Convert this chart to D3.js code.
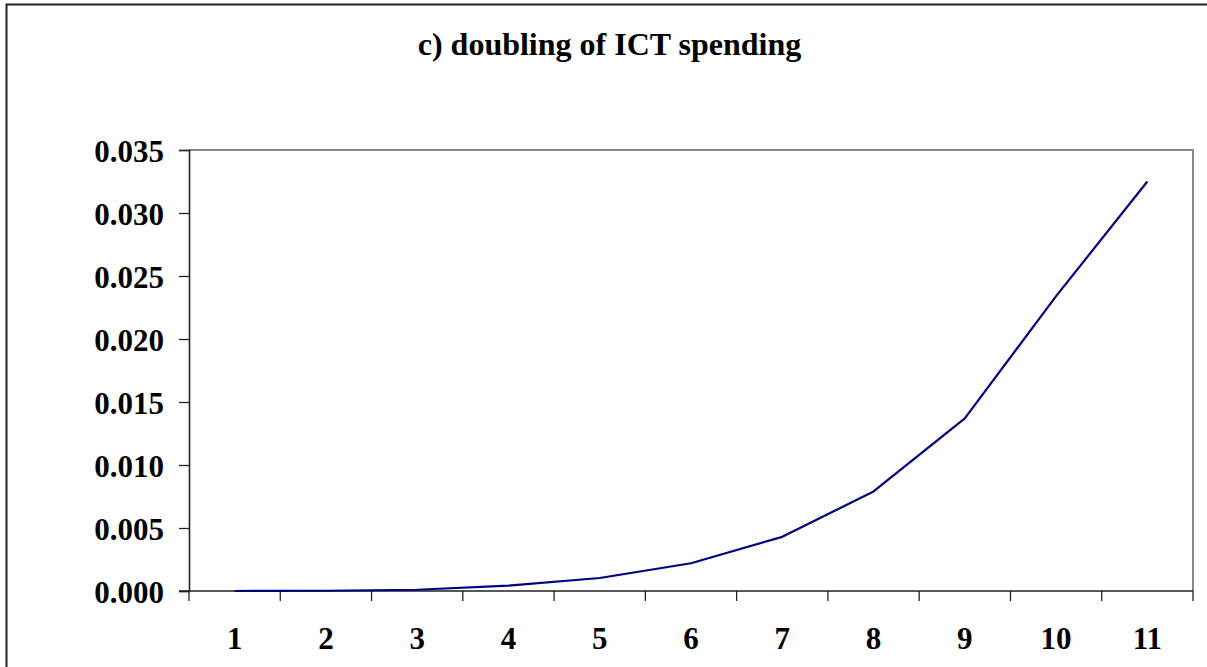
<!DOCTYPE html>
<html>
<head>
<meta charset="utf-8">
<script src="https://cdn.jsdelivr.net/npm/d3@7/dist/d3.min.js"></script>
<style>
  html, body { margin: 0; padding: 0; background: #fff; }
  svg { display: block; }
  text { font-family: "Liberation Serif", "Times New Roman", serif; font-weight: bold; fill: #000; }
</style>
</head>
<body>
<svg id="chart" width="1207" height="667"></svg>
<script>
const title = "c) doubling of ICT spending";
const categories = ["1", "2", "3", "4", "5", "6", "7", "8", "9", "10", "11"];
const values = [0.0000, 0.00002, 0.0001, 0.00042, 0.00103, 0.0022, 0.0043, 0.0079, 0.0137, 0.0234, 0.0325];
const yTicks = [0, 0.005, 0.010, 0.015, 0.020, 0.025, 0.030, 0.035];

const svg = d3.select("#chart");
const W = 1207, H = 667;
const plot = { left: 189, right: 1193, top: 150, bottom: 591 };

// outer frame (extends past right and bottom edge as in the reference)
svg.append("rect")
  .attr("x", 6.5).attr("y", 4.5)
  .attr("width", W + 20).attr("height", H + 20)
  .attr("fill", "none").attr("stroke", "#222").attr("stroke-width", 2);

svg.append("text")
  .attr("x", 609.5).attr("y", 55)
  .attr("text-anchor", "middle")
  .style("font-size", "32px")
  .text(title);

const x = d3.scaleBand().domain(categories).range([plot.left, plot.right]).padding(0);
const y = d3.scaleLinear().domain([0, 0.035]).range([plot.bottom, plot.top]);

// plot border (top & right, gray)
svg.append("path")
  .attr("d", `M${plot.left},${plot.top}H${plot.right}V${plot.bottom}`)
  .attr("fill", "none").attr("stroke", "#888").attr("stroke-width", 2);

// Y axis
const yAxis = d3.axisLeft(y)
  .tickValues(yTicks)
  .tickFormat(d3.format(".3f"))
  .tickSize(10)
  .tickPadding(15);
const yg = svg.append("g").attr("transform", `translate(${plot.left},0)`).call(yAxis);
yg.select(".domain").attr("stroke", "#222").attr("stroke-width", 1.6);
yg.selectAll(".tick line").attr("stroke", "#222").attr("stroke-width", 1.3);
yg.selectAll(".tick text")
  .style("font-size", "31px")
  .style("font-family", '"Liberation Serif", "Times New Roman", serif')
  .style("font-weight", "bold")
  .attr("fill", "#000")
  .attr("dy", "0.36em");

// X axis line
svg.append("line")
  .attr("x1", plot.left - 10).attr("x2", plot.right)
  .attr("y1", plot.bottom).attr("y2", plot.bottom)
  .attr("stroke", "#222").attr("stroke-width", 1.6);

// X ticks at category boundaries
const boundaries = categories.map(c => x(c)).concat([x(categories[categories.length - 1]) + x.bandwidth()]);
svg.append("g").selectAll("line")
  .data(boundaries)
  .join("line")
  .attr("x1", d => d).attr("x2", d => d)
  .attr("y1", plot.bottom).attr("y2", plot.bottom + 10)
  .attr("stroke", "#222").attr("stroke-width", 1.3);

// X labels
svg.append("g").selectAll("text")
  .data(categories)
  .join("text")
  .attr("x", d => x(d) + x.bandwidth() / 2)
  .attr("y", 649)
  .attr("text-anchor", "middle")
  .style("font-size", "31px")
  .text(d => d);

// Line
const line = d3.line()
  .x((d, i) => x(categories[i]) + x.bandwidth() / 2)
  .y(d => y(d));
svg.append("path")
  .datum(values)
  .attr("d", line)
  .attr("fill", "none")
  .attr("stroke", "#000080")
  .attr("stroke-width", 2.2)
  .attr("stroke-linejoin", "round");
</script>
</body>
</html>
